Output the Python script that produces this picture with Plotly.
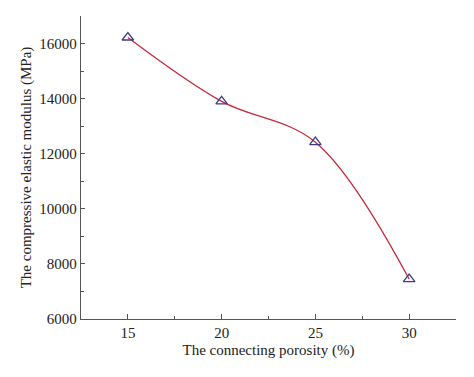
import plotly.graph_objects as go

porosity = [15, 20, 25, 30]
modulus = [16220, 13900, 12420, 7450]

x_tickvals = [15, 20, 25, 30]
y_tickvals = [6000, 8000, 10000, 12000, 14000, 16000]

fig = go.Figure()
fig.add_trace(go.Scatter(
    x=porosity, y=modulus, mode="lines",
    line=dict(color="#c8283c", width=1.3, shape="spline", smoothing=1.0),
    hoverinfo="skip", showlegend=False,
))
fig.add_trace(go.Scatter(
    x=porosity, y=modulus, mode="markers",
    marker=dict(symbol="triangle-up-open", size=10, color="#3c3c8a",
                line=dict(width=1.3, color="#3c3c8a")),
    showlegend=False,
))

font_family = "Liberation Serif, DejaVu Serif, serif"
fig.update_layout(
    width=466, height=369,
    margin=dict(l=73, r=18, t=8, b=58, autoexpand=False),
    paper_bgcolor="white", plot_bgcolor="white",
    font=dict(family=font_family, size=15, color="#222"),
    xaxis=dict(
        range=[12.5, 32.5], tickvals=x_tickvals, ticktext=[str(v) for v in x_tickvals],
        showgrid=False, zeroline=False, showline=True, linecolor="#555", linewidth=1.3,
        ticks="inside", ticklen=5, tickcolor="#555", tickwidth=1,
        minor=dict(tickvals=[12.5, 17.5, 22.5, 27.5, 32.5], ticks="inside", ticklen=3, tickcolor="#555"),
        title=dict(text="The connecting porosity (%)", font=dict(size=15), standoff=4),
        tickfont=dict(size=15), automargin=False,
    ),
    yaxis=dict(
        range=[6000, 17000], tickvals=y_tickvals, ticktext=[str(v) for v in y_tickvals],
        showgrid=False, zeroline=False, showline=True, linecolor="#555", linewidth=1.3,
        ticks="inside", ticklen=4, tickcolor="#555", tickwidth=1,
        minor=dict(tickvals=[7000, 9000, 11000, 13000, 15000, 17000], ticks="inside", ticklen=3, tickcolor="#555"),
        title=dict(text="The compressive elastic modulus (MPa)", font=dict(size=15), standoff=4),
        tickfont=dict(size=15), automargin=False,
    ),
)

fig.write_html("out.html")
